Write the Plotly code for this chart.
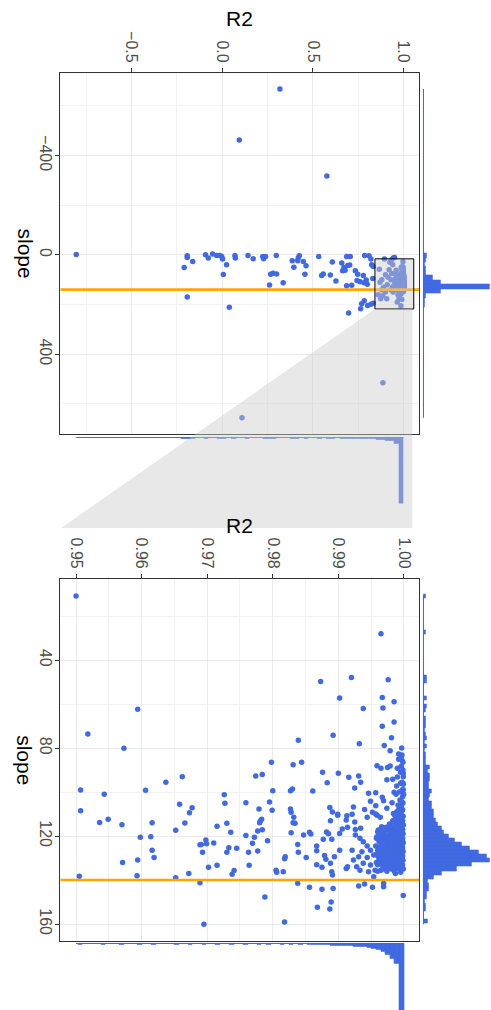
import plotly.graph_objects as go

W, H = 491, 1010

# ------------------------------------------------------------------ data
ref_slope = 140  # orange reference line

# points only visible in the wide (top) panel: (R2, slope)
points_wide = [
    (0.318, -668), (0.094, -462), (0.577, -318), (-0.805, -1), (-0.210, 51), (-0.193, 4),
    (-0.193, 11), (-0.163, 27), (-0.193, 170), (-0.092, 0), (-0.077, 13), (-0.053, -3),
    (-0.031, 3), (-0.013, 3), (-0.003, 7), (0.002, 17), (0.006, 79), (0.024, 40), (0.039, 211),
    (0.070, 3), (0.072, 13), (0.142, 3), (0.171, 16), (0.223, 7), (0.239, 7), (0.228, 16),
    (0.298, 3), (0.267, 78), (0.280, 74), (0.300, 77), (0.261, 121), (0.336, 112), (0.386, 24),
    (0.395, 50), (0.419, 13), (0.425, 4), (0.416, 24), (0.447, 27), (0.462, 44), (0.456, 78),
    (0.532, 7), (0.607, 29), (0.548, 83), (0.557, 77), (0.596, 81), (0.627, 105), (0.659, 33),
    (0.671, 51), (0.677, 62), (0.692, 43), (0.703, 41), (0.686, 7), (0.706, 7), (0.664, 64),
    (0.734, 64), (0.747, 78), (0.686, 124), (0.714, 122), (0.743, 103), (0.760, 108), (0.785, 3),
    (0.809, 4), (0.820, 17), (0.824, 40), (0.833, 47), (0.778, 83), (0.794, 101), (0.782, 112),
    (0.800, 118), (0.830, 95), (0.769, 197), (0.783, 185), (0.802, 204), (0.820, 199),
    (0.833, 195), (0.763, 217), (0.697, 234), (0.860, 161), (0.874, 177), (0.885, 165),
    (0.907, 177), (0.894, 17), (0.934, 20), (0.943, 13), (0.866, 58), (0.886, 515), (0.109, 656),
    (0.88, 100), (0.90, 80), (0.91, 120), (0.92, 60), (0.93, 140), (0.93, 100), (0.94, 40),
    (0.94, 128), (0.89, 130), (0.915, 90), (0.925, 30), (0.942, 150), (0.935, 75), (0.90, 150),
    (0.88, 140), (0.87, 110), (0.965, 190), (0.985, 205), (0.99, 180), (0.975, 175),
]

# points read in the zoomed (bottom) panel
points_zoom = [
    (0.9500, 10.9), (0.9594, 62.4), (0.9518, 73.6), (0.9573, 80.1), (0.9662, 93.0), (0.9965, 28.0),
    (0.9873, 49.7), (0.9920, 47.9), (0.9976, 49.0), (0.9902, 57.3), (0.9967, 57.0), (0.9985, 59.0),
    (0.9938, 62.0), (0.9968, 61.8), (0.9985, 68.2), (0.9967, 70.1), (0.9892, 74.2), (0.9981, 75.3),
    (0.9839, 76.4), (0.9932, 78.0), (0.9970, 78.8), (0.9979, 81.2), (0.9992, 82.7), (0.9997, 83.2),
    (0.9992, 85.1), (0.9997, 85.5), (0.9996, 84.0), (0.9798, 86.4), (0.9831, 87.6), (0.9844, 86.4),
    (0.9959, 88.0), (0.9965, 89.2), (0.9975, 88.8), (0.9979, 88.2), (0.9990, 89.2), (0.9996, 88.3),
    (0.9774, 92.7), (0.9784, 92.0), (0.9876, 91.0), (0.9900, 91.5), (0.9916, 93.3), (0.9931, 92.7),
    (0.9974, 94.4), (0.9983, 94.2), (0.9990, 93.2), (0.9883, 95.8), (0.9934, 95.6), (0.9925, 98.2),
    (0.9999, 96.4), (0.9989, 97.3), (0.9800, 99.4), (0.9827, 99.4), (0.9830, 98.6), (0.9861, 99.5),
    (0.9946, 100.6), (0.9957, 100.3), (0.9967, 102.4), (0.9985, 100.1), (0.9988, 101.0),
    (0.9998, 102.1), (0.9994, 103.6), (0.9759, 104.9), (0.9795, 104.5), (0.9799, 108.3),
    (0.9779, 107.7), (0.9827, 107.7), (0.9828, 109.2), (0.9887, 107.0), (0.9891, 109.1),
    (0.9899, 110.1), (0.9923, 106.8), (0.9940, 107.9), (0.9949, 104.2), (0.9957, 106.2),
    (0.9969, 104.0), (0.9974, 107.4), (0.9982, 104.9), (0.9984, 109.7), (0.9992, 108.2),
    (0.9952, 109.2), (0.9957, 110.0), (0.9783, 112.4), (0.9781, 113.2), (0.9780, 114.0),
    (0.9832, 111.5), (0.9831, 114.0), (0.9834, 114.2), (0.9888, 113.0), (0.9899, 110.5),
    (0.9913, 110.8), (0.9921, 110.1), (0.9912, 112.7), (0.9925, 113.6), (0.9944, 111.5),
    (0.9959, 110.5), (0.9964, 111.5), (0.9777, 117.7), (0.9772, 120.6), (0.9769, 123.3),
    (0.9784, 117.1), (0.9792, 122.1), (0.9759, 119.7), (0.9828, 118.5), (0.9847, 119.5),
    (0.9856, 118.3), (0.9858, 119.1), (0.9838, 123.8), (0.9839, 127.4), (0.9819, 129.4),
    (0.9818, 130.3), (0.9851, 129.7), (0.9867, 124.5), (0.9867, 126.7), (0.9882, 118.2),
    (0.9885, 119.0), (0.9877, 121.4), (0.9890, 121.4), (0.9902, 118.8), (0.9906, 116.8),
    (0.9914, 116.0), (0.9926, 117.0), (0.9934, 116.4), (0.9763, 127.4), (0.9777, 126.8),
    (0.9764, 133.3), (0.9867, 133.0), (0.9875, 134.2), (0.9879, 128.8), (0.9881, 130.5),
    (0.9894, 129.4), (0.9902, 126.4), (0.9888, 132.4), (0.9805, 135.5), (0.9806, 136.5),
    (0.9816, 136.2), (0.9890, 136.2), (0.9891, 137.7), (0.9912, 134.7), (0.9914, 134.0),
    (0.9838, 141.5), (0.9856, 143.3), (0.9875, 144.2), (0.9892, 143.8), (0.9931, 142.7),
    (0.9940, 141.8), (0.9952, 143.3), (0.9969, 141.5), (0.9969, 143.0), (0.9788, 147.7),
    (0.9999, 147.0), (0.9868, 152.4), (0.9889, 150.0), (0.9887, 153.2), (0.9818, 159.1),
    (0.9507, 99.1), (0.9507, 108.5), (0.9505, 138.3), (0.9543, 101.0), (0.9536, 113.8),
    (0.9549, 112.4), (0.9570, 114.9), (0.9571, 132.0), (0.9606, 99.2), (0.9598, 120.5),
    (0.9594, 130.9), (0.9593, 138.0), (0.9614, 120.3), (0.9616, 114.0), (0.9616, 126.5),
    (0.9619, 129.7), (0.9637, 95.5), (0.9658, 105.5), (0.9652, 117.4), (0.9652, 139.0),
    (0.9666, 114.1), (0.9673, 109.4), (0.9677, 107.1), (0.9672, 137.0), (0.9689, 124.0),
    (0.9691, 123.8), (0.9693, 127.4), (0.9689, 141.2), (0.9698, 121.8), (0.9699, 123.5),
    (0.9695, 160.1), (0.9702, 134.2), (0.9710, 123.2), (0.9715, 115.5), (0.9715, 133.3),
    (0.9726, 101.2), (0.9727, 105.1), (0.9730, 114.2), (0.9736, 118.3), (0.9733, 125.3),
    (0.9730, 127.4), (0.9745, 125.6), (0.9738, 137.4), (0.9741, 135.6),
]

# points on the left fringe of the dense cluster
points_fringe = [
    (0.9926, 119.5), (0.9933, 121.0), (0.9938, 122.6), (0.9944, 124.5), (0.9936, 127.1),
    (0.9949, 126.4), (0.9931, 129.4), (0.9944, 129.7), (0.9954, 128.6), (0.9938, 132.4),
    (0.9949, 133.2), (0.9933, 135.5), (0.9946, 136.2), (0.9956, 135.5), (0.9954, 138.5),
    (0.9928, 133.9), (0.9921, 126.4), (0.9923, 130.9), (0.9961, 117.3), (0.9966, 115.8),
    (0.9959, 120.3),
]

# the dense cluster near R2 = 1
points_core = [
    (0.99985, 105), (0.9998, 108), (0.99988, 111), (0.9998, 113), (0.99992, 115), (0.9998, 117),
    (0.99987, 119), (0.9998, 121), (0.9999, 123), (0.99978, 125), (0.99988, 127), (0.9998, 129),
    (0.99986, 131), (0.99978, 133), (0.9999, 135),
    (0.9995, 104), (0.9996, 107), (0.9994, 110), (0.9995, 112.5), (0.9996, 114.5), (0.9994, 116),
    (0.9995, 118), (0.9996, 120), (0.9994, 122), (0.9995, 124), (0.9996, 126), (0.9994, 128),
    (0.9995, 130), (0.9996, 132), (0.9994, 134), (0.9995, 136.5),
    (0.9991, 106), (0.999, 111), (0.9991, 114), (0.9992, 116.5), (0.999, 118.5), (0.9991, 120.5),
    (0.9992, 122.5), (0.999, 124.5), (0.9991, 126.5), (0.9992, 128.5), (0.999, 130.5),
    (0.9991, 132.5), (0.9992, 135),
    (0.9987, 112), (0.9986, 115.5), (0.9988, 117.5), (0.9987, 119.5), (0.9986, 121.5),
    (0.9988, 123.5), (0.9987, 125.5), (0.9986, 127.5), (0.9988, 129.5), (0.9987, 131.5),
    (0.9986, 133.5), (0.9987, 137),
    (0.9983, 113), (0.9982, 117), (0.9984, 119), (0.9983, 121), (0.9982, 123), (0.9984, 125),
    (0.9983, 127), (0.9982, 129), (0.9984, 131), (0.9983, 134),
    (0.9978, 114.5), (0.9979, 118), (0.9977, 120), (0.9978, 122.5), (0.9979, 124.5),
    (0.9977, 126.5), (0.9978, 128.5), (0.9979, 130.5), (0.9977, 133),
    (0.9973, 116), (0.9972, 119.5), (0.9974, 121.5), (0.9973, 124), (0.9972, 126), (0.9974, 128),
    (0.9973, 130), (0.9972, 132.5), (0.9974, 136),
    (0.9968, 118), (0.9967, 121), (0.9969, 123.5), (0.9968, 126), (0.9967, 128.5), (0.9969, 131),
    (0.9968, 134),
    (0.9963, 119.5), (0.9962, 122.5), (0.9964, 125), (0.9963, 127.5), (0.9962, 130.5),
    (0.9958, 121), (0.9957, 124.5), (0.9959, 128), (0.9958, 132),
    (0.99965, 109), (0.99965, 113.5), (0.99965, 117.5), (0.99965, 121.5), (0.99965, 125.5),
    (0.99965, 129.5), (0.99965, 133.5),
    (0.99925, 113), (0.99925, 119.5), (0.99925, 125.5), (0.99925, 131.5),
    (0.99845, 116), (0.99845, 122), (0.99845, 128), (0.99845, 132.5),
    (0.99755, 117), (0.99755, 123.5), (0.99755, 129.5),
    (0.99705, 120), (0.99705, 127), (0.99705, 133),
    (0.99985, 90), (0.9999, 93), (0.99975, 99), (0.99995, 101), (0.9997, 95.5), (0.99985, 86.5),
    (0.9995, 91), (0.99965, 80),
    (0.99975, 114), (0.99975, 118), (0.99975, 122), (0.99975, 126), (0.99975, 130), (0.99975, 134),
    (0.99935, 115), (0.99935, 117), (0.99935, 121), (0.99935, 123), (0.99935, 127), (0.99935, 129),
    (0.99935, 133), (0.99935, 135),
    (0.99895, 113), (0.99895, 116), (0.99895, 119.5), (0.99895, 121.5), (0.99895, 123.5),
    (0.99895, 125.5), (0.99895, 127.5), (0.99895, 129.5), (0.99895, 131.5), (0.99895, 133.5),
    (0.99855, 114), (0.99855, 118.5), (0.99855, 120), (0.99855, 124), (0.99855, 126.5),
    (0.99855, 130), (0.99855, 134.5), (0.99855, 136),
    (0.99805, 116), (0.99805, 119), (0.99805, 121), (0.99805, 123.5), (0.99805, 126),
    (0.99805, 128), (0.99805, 130), (0.99805, 132), (0.99805, 135),
    (0.99755, 119.5), (0.99755, 121), (0.99755, 126), (0.99755, 131.5), (0.99755, 134.5),
    (0.9970, 118), (0.9970, 122.5), (0.9970, 124.5), (0.9970, 129), (0.9970, 131), (0.9970, 135),
    (0.9965, 117), (0.9965, 120), (0.9965, 123), (0.9965, 124.5), (0.9965, 129.5), (0.9965, 132.5),
    (0.9965, 135.5),
    (0.9960, 118), (0.9960, 121), (0.9960, 126.5), (0.9960, 129), (0.9960, 133), (0.9960, 136),
    (0.9997, 104.5), (0.9993, 106.5), (0.99965, 105.5), (0.9999, 99), (0.9993, 100),
    (0.9989, 109), (0.9986, 110.5), (0.9995, 96), (0.9999, 91.5), (0.99985, 96),
]

# marginal histograms (bin centre, bar length)
wide_slope_bin_width = 18
wide_slope_centers = [3, 21, 39, 57, 75, 93, 111, 129, 147, 165, 183, 201, 219]
wide_slope_counts = [3, 2, 1.5, 2, 2, 9, 17, 67, 17, 2, 1, 1, 0.8]
wide_slope_span = [-668, 656]

wide_r2_bin_width = 0.025
wide_r2_centers = [0.9875, 0.9625, 0.9375, 0.9125, 0.8875, 0.8625, 0.8375, 0.8125, 0.7875,
                   0.7625, 0.7375, 0.7125, 0.6875, 0.6625, 0.6125, 0.5875, 0.5375, 0.4625,
                   0.4125, 0.3875, 0.2875, 0.2625, 0.2375, 0.1375, 0.0625, 0.0125, -0.0125,
                   -0.0875, -0.1625, -0.1875, -0.2125]
wide_r2_counts = [67, 6, 3, 3, 2.5, 2, 1.5, 1.5, 1.5, 1.5, 1, 1, 1.5, 1, 1, 1, 1, 1,
                  1, 1, 1, 1, 1, 1, 1, 1, 1, 1, 1, 1, 1]
wide_r2_span = [-0.805, 1.0]

zoom_slope_bin_width = 1.85
zoom_slope_centers = [10.93, 27.58, 47.93, 49.78, 57.18, 60.88, 62.73, 66.43, 68.28, 70.13,
                      71.98, 73.83, 75.68, 77.53, 79.38, 81.23, 83.08, 84.93, 86.78, 88.63,
                      90.48, 92.33, 94.18, 96.03, 97.88, 99.73, 101.58, 103.43, 105.28, 107.13,
                      108.98, 110.83, 112.68, 114.53, 116.38, 118.23, 120.08, 121.93, 123.78,
                      125.63, 127.48, 129.33, 131.18, 133.03, 134.88, 136.73, 138.58, 140.43,
                      142.28, 144.13, 145.98, 147.83, 149.68, 151.53, 153.38, 158.93]
zoom_slope_counts = [2, 2, 3, 3, 3, 3, 2, 2, 2, 2,
                     1, 2, 3, 1, 3, 1, 2, 2, 2, 6,
                     4, 6, 6, 5, 5, 8, 6, 5, 8, 8,
                     10, 10, 12, 14, 18, 20, 25, 31, 39,
                     47, 56, 64, 67, 49, 33, 18, 10, 4,
                     5, 5, 3, 3, 1, 2, 2, 4]
zoom_slope_span = [10.9, 160.1]

zoom_r2_bin_width = 0.0007
zoom_r2_centers = [0.99965, 0.99895, 0.99825, 0.99755, 0.99685, 0.99615, 0.99545, 0.99475,
                   0.99405, 0.99335, 0.99265, 0.99195, 0.99125, 0.99055, 0.98985, 0.98915,
                   0.98845, 0.98775, 0.98705, 0.98635, 0.98565, 0.98425, 0.98285, 0.98145,
                   0.97935, 0.97795, 0.97585, 0.97375, 0.97165, 0.96955, 0.96745, 0.96535,
                   0.96185, 0.95975, 0.95695, 0.95415, 0.95065]
zoom_r2_counts = [150, 20, 15, 11, 8, 6, 5, 4,
                  3, 3, 3, 2, 2, 2, 2, 2,
                  1.5, 1.5, 1.5, 1.5, 1.5, 1.5, 1.5, 1.5,
                  1.5, 1.5, 1, 1, 1, 1, 1, 1,
                  1, 1, 1, 1, 1]
zoom_r2_span = [0.95, 1.0]

# ticks
wide_r2_ticks = [-0.5, 0.0, 0.5, 1.0]
wide_r2_labels = ["\u22120.5", "0.0", "0.5", "1.0"]
wide_r2_minor = [-0.75, -0.25, 0.25, 0.75]
wide_slope_ticks = [-400, 0, 400]
wide_slope_labels = ["\u2212400", "0", "400"]
wide_slope_minor = [-600, -200, 200, 600]
zoom_r2_ticks = [0.95, 0.96, 0.97, 0.98, 0.99, 1.00]
zoom_r2_labels = ["0.95", "0.96", "0.97", "0.98", "0.99", "1.00"]
zoom_r2_minor = [0.955, 0.965, 0.975, 0.985, 0.995]
zoom_slope_ticks = [40, 80, 120, 160]
zoom_slope_labels = ["40", "80", "120", "160"]
zoom_slope_minor = [20, 60, 100, 140]

# zoom window drawn on the wide panel
zoom_rect_r2 = [0.842, 1.056]
zoom_rect_slope = [16, 218]

# ------------------------------------------------------------------ layout constants
BLUE = "#4169E1"
ORANGE = "#FFA500"
FONT = "Liberation Sans, Arial, Helvetica, sans-serif"

PX = lambda p: p / W
PY = lambda p: 1 - p / H

X_DOM = [PX(60.3), PX(419)]
TOP_Y_DOM = [PY(433.7), PY(73.3)]
BOT_Y_DOM = [PY(941), PY(579.3)]
R2_RANGE_TOP = [-0.893, 1.085]
SLOPE_RANGE_TOP = [720, -731]
R2_RANGE_BOT = [0.9476, 1.0023]
SLOPE_RANGE_BOT = [167.7, 3.3]

RIGHT_HIST_DOM = [PX(422.7), PX(490)]
TOP_BHIST_DOM = [PY(503.5), PY(436.8)]
BOT_BHIST_DOM = [0.0, PY(942.7)]


def to_paper(v, rng, dom):
    return dom[0] + (v - rng[0]) / (rng[1] - rng[0]) * (dom[1] - dom[0])


all_points = points_wide + points_zoom + points_fringe + points_core
r2_all = [p[0] for p in all_points]
slope_all = [p[1] for p in all_points]

fig = go.Figure()

# scatter points, wide panel
fig.add_trace(go.Scatter(x=r2_all, y=slope_all, mode="markers", xaxis="x", yaxis="y",
                         marker=dict(color=BLUE, size=5.5, line=dict(width=0)), hoverinfo="skip"))
fig.add_trace(go.Scatter(x=R2_RANGE_TOP, y=[ref_slope, ref_slope], mode="lines", xaxis="x", yaxis="y",
                         line=dict(color=ORANGE, width=2.6), hoverinfo="skip"))
# scatter points, zoom panel
fig.add_trace(go.Scatter(x=r2_all, y=slope_all, mode="markers", xaxis="x2", yaxis="y2",
                         marker=dict(color=BLUE, size=5.5, line=dict(width=0)), hoverinfo="skip"))
fig.add_trace(go.Scatter(x=R2_RANGE_BOT, y=[ref_slope, ref_slope], mode="lines", xaxis="x2", yaxis="y2",
                         line=dict(color=ORANGE, width=2.6), hoverinfo="skip"))

bar_style = dict(marker=dict(color=BLUE, line=dict(width=0.6, color=BLUE)), hoverinfo="skip")
line_style = dict(mode="lines", line=dict(color=BLUE, width=1.2), hoverinfo="skip")

# wide panel: right slope histogram
fig.add_trace(go.Bar(x=wide_slope_counts, y=wide_slope_centers, orientation="h",
                     width=wide_slope_bin_width, xaxis="x3", yaxis="y5", **bar_style))
fig.add_trace(go.Scatter(x=[0, 0], y=wide_slope_span, xaxis="x3", yaxis="y5", **line_style))
# wide panel: bottom R2 histogram
fig.add_trace(go.Bar(x=wide_r2_centers, y=wide_r2_counts, width=wide_r2_bin_width,
                     xaxis="x5", yaxis="y3", **bar_style))
fig.add_trace(go.Scatter(x=wide_r2_span, y=[0, 0], xaxis="x5", yaxis="y3", **line_style))
# zoom panel: right slope histogram
fig.add_trace(go.Bar(x=zoom_slope_counts, y=zoom_slope_centers, orientation="h",
                     width=zoom_slope_bin_width, xaxis="x4", yaxis="y6", **bar_style))
fig.add_trace(go.Scatter(x=[0, 0], y=zoom_slope_span, xaxis="x4", yaxis="y6", **line_style))
# zoom panel: bottom R2 histogram
fig.add_trace(go.Bar(x=zoom_r2_centers, y=zoom_r2_counts, width=zoom_r2_bin_width,
                     xaxis="x6", yaxis="y4", **bar_style))
fig.add_trace(go.Scatter(x=zoom_r2_span, y=[0, 0], xaxis="x6", yaxis="y4", **line_style))

common = dict(showgrid=True, gridcolor="#EBEBEB", gridwidth=1.3, zeroline=False,
              showline=True, linecolor="#333333", linewidth=1, mirror=True,
              ticks="outside", ticklen=4, tickcolor="#333333", tickwidth=1,
              tickfont=dict(size=16, color="#4D4D4D", family=FONT), tickangle=90,
              tickmode="array", fixedrange=True)
minor_style = dict(showgrid=True, gridcolor="#F2F2F2", gridwidth=0.8, ticks="")
hidden = dict(visible=False, showgrid=False, zeroline=False, fixedrange=True)

fig.update_layout(
    width=W, height=H, margin=dict(l=0, r=0, t=0, b=0),
    paper_bgcolor="white", plot_bgcolor="white", showlegend=False, bargap=0,
    font=dict(family=FONT),
    xaxis=dict(domain=X_DOM, range=R2_RANGE_TOP, side="top", anchor="y",
               tickvals=wide_r2_ticks, ticktext=wide_r2_labels,
               minor=dict(tickvals=wide_r2_minor, **minor_style), **common),
    yaxis=dict(domain=TOP_Y_DOM, range=SLOPE_RANGE_TOP, anchor="x",
               tickvals=wide_slope_ticks, ticktext=wide_slope_labels, ticklabelstandoff=-4,
               minor=dict(tickvals=wide_slope_minor, **minor_style), **common),
    xaxis2=dict(domain=X_DOM, range=R2_RANGE_BOT, side="top", anchor="y2",
                tickvals=zoom_r2_ticks, ticktext=zoom_r2_labels,
                minor=dict(tickvals=zoom_r2_minor, **minor_style), **common),
    yaxis2=dict(domain=BOT_Y_DOM, range=SLOPE_RANGE_BOT, anchor="x2",
                tickvals=zoom_slope_ticks, ticktext=zoom_slope_labels, ticklabelstandoff=-4,
                minor=dict(tickvals=zoom_slope_minor, **minor_style), **common),
    xaxis3=dict(domain=RIGHT_HIST_DOM, range=[-0.7, 67], anchor="y5", **hidden),
    yaxis5=dict(domain=TOP_Y_DOM, range=SLOPE_RANGE_TOP, anchor="x3", **hidden),
    xaxis5=dict(domain=X_DOM, range=R2_RANGE_TOP, anchor="y3", **hidden),
    yaxis3=dict(domain=TOP_BHIST_DOM, range=[67, -0.7], anchor="x5", **hidden),
    xaxis4=dict(domain=RIGHT_HIST_DOM, range=[-0.7, 67], anchor="y6", **hidden),
    yaxis6=dict(domain=BOT_Y_DOM, range=SLOPE_RANGE_BOT, anchor="x4", **hidden),
    xaxis6=dict(domain=X_DOM, range=R2_RANGE_BOT, anchor="y4", **hidden),
    yaxis4=dict(domain=BOT_BHIST_DOM, range=[67, -0.7], anchor="x6", **hidden),
)

# zoom window + link polygon
ZOOM_FILL = "rgba(205,205,205,0.45)"
fig.add_shape(type="rect", xref="x", yref="y",
              x0=zoom_rect_r2[0], x1=zoom_rect_r2[1], y0=zoom_rect_slope[0], y1=zoom_rect_slope[1],
              fillcolor=ZOOM_FILL, line=dict(color="black", width=1), layer="above")
p1x = to_paper(zoom_rect_r2[0], R2_RANGE_TOP, X_DOM)
p2x = to_paper(zoom_rect_r2[1], R2_RANGE_TOP, X_DOM) - PX(1.5)
py_top = to_paper(zoom_rect_slope[1], SLOPE_RANGE_TOP, TOP_Y_DOM)
py_bot = PY(528)
fig.add_shape(type="path", xref="paper", yref="paper",
              path=f"M {p1x},{py_top} L {p2x},{py_top} L {p2x},{py_bot} L {X_DOM[0] + PX(0.7)},{py_bot} Z",
              fillcolor=ZOOM_FILL, line=dict(width=0), layer="above")

# axis titles
title_font = dict(size=21, color="black", family=FONT)
for yc, xt_y in [((TOP_Y_DOM[0] + TOP_Y_DOM[1]) / 2, PY(18)),
                 ((BOT_Y_DOM[0] + BOT_Y_DOM[1]) / 2, PY(525))]:
    fig.add_annotation(text="R2", x=(X_DOM[0] + X_DOM[1]) / 2, y=xt_y, xref="paper", yref="paper",
                       showarrow=False, font=title_font, xanchor="center", yanchor="middle")
    fig.add_annotation(text="slope", x=PX(25), y=yc, xref="paper", yref="paper", textangle=90,
                       showarrow=False, font=title_font, xanchor="center", yanchor="middle")

fig.write_html("out.html")
